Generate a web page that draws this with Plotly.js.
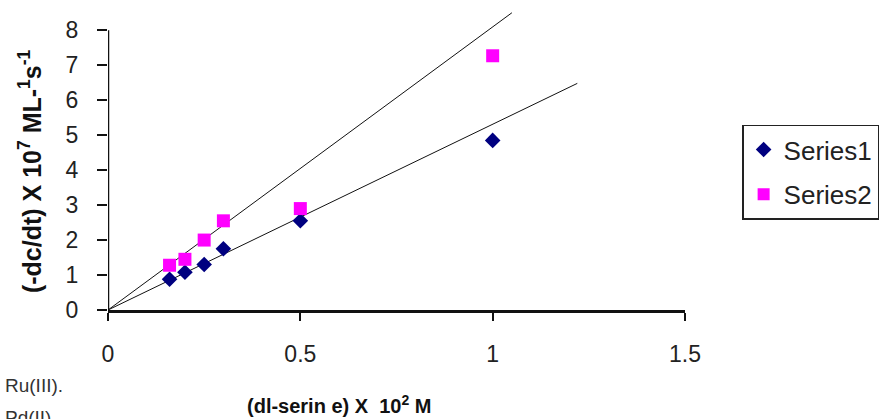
<!DOCTYPE html>
<html>
<head>
<meta charset="utf-8">
<script src="https://cdn.plot.ly/plotly-3.0.1.min.js"></script>
<style>html,body{margin:0;padding:0;background:#fff;}#chart{width:892px;height:419px;}</style>
</head>
<body>
<div id="chart"></div>
<script>
// Data
const concX = [0.16, 0.2, 0.25, 0.3, 0.5, 1.0];
const series1 = [0.88, 1.08, 1.3, 1.75, 2.55, 4.85];
const series2 = [1.28, 1.45, 2.0, 2.55, 2.9, 7.27];
const trend1X = [0, 1.05];
const trend1Y = [0, 8.5];
const trend2X = [0, 1.22];
const trend2Y = [0, 6.48];
const seriesNames = ["Series1", "Series2"];
const xTicks = [0, 0.5, 1, 1.5];
const yTicks = [0, 1, 2, 3, 4, 5, 6, 7, 8];

const traces = [
  {x: trend1X, y: trend1Y, mode: 'lines', line: {color: '#111', width: 1}, showlegend: false, hoverinfo: 'skip'},
  {x: trend2X, y: trend2Y, mode: 'lines', line: {color: '#111', width: 1}, showlegend: false, hoverinfo: 'skip'},
  {x: concX, y: series1, name: seriesNames[0], mode: 'markers', legendgroup: 'a',
   marker: {symbol: 'diamond', size: 12, color: '#000080', line: {width: 0}}},
  {x: concX, y: series2, name: seriesNames[1], mode: 'markers', legendgroup: 'b',
   marker: {symbol: 'square', size: 13, color: '#FF00FF', line: {width: 0}}}
];

const tickFont = {family: 'Arial, Liberation Sans, sans-serif', size: 23, color: '#222'};

const layout = {
  width: 892, height: 419,
  margin: {l: 108, r: 207, t: 11, b: 109, pad: 0},
  paper_bgcolor: '#fff', plot_bgcolor: '#fff',
  showlegend: true,
  legend: {
    x: 1.099, y: 0.62, xanchor: 'left', yanchor: 'top',
    bordercolor: '#222', borderwidth: 1.5, bgcolor: '#fff',
    font: {family: 'Arial, Liberation Sans, sans-serif', size: 26, color: '#222'},
    traceorder: 'grouped', tracegroupgap: 8, itemsizing: 'constant',
    entrywidth: 140, entrywidthmode: 'pixels'
  },
  xaxis: {
    range: [0, 1.5], tickvals: xTicks, ticktext: xTicks.map(String),
    showgrid: false, zeroline: false, showline: true, linecolor: '#111', linewidth: 2.5,
    ticks: 'outside', ticklen: 8, tickwidth: 2, tickcolor: '#111',
    ticklabelstandoff: 14, tickfont: tickFont, fixedrange: true
  },
  yaxis: {
    range: [0, 8.55], tickvals: yTicks, ticktext: yTicks.map(String),
    showgrid: false, zeroline: false, showline: false,
    ticks: 'outside', ticklen: 10, tickwidth: 2, tickcolor: '#111',
    ticklabelstandoff: 14, tickfont: tickFont, fixedrange: true
  },
  shapes: [
    {type: 'line', xref: 'x', yref: 'y', x0: 0, x1: 0, y0: 0, y1: yTicks[yTicks.length - 1],
     line: {color: '#111', width: 2.5}, layer: 'above'}
  ],
  annotations: [
    {text: '<b>(-dc/dt) X 10<sup>7</sup> ML-<sup>1</sup>s<sup>-1</sup></b>', textangle: -90,
     xref: 'paper', yref: 'paper', x: -0.135, y: 0.465, xanchor: 'center', yanchor: 'middle',
     showarrow: false, font: {family: 'Arial, Liberation Sans, sans-serif', size: 25, color: '#111'}},
    {text: '<b>(dl-serin e) X  10<sup>2</sup> M</b>',
     xref: 'paper', yref: 'paper', x: 0.402, y: -0.315, xanchor: 'center', yanchor: 'middle',
     showarrow: false, font: {family: 'Arial, Liberation Sans, sans-serif', size: 20, color: '#111'}},
    {text: 'Ru(III).', xref: 'paper', yref: 'paper', x: -0.182, y: -0.252, xanchor: 'left', yanchor: 'middle',
     showarrow: false, font: {family: 'Arial, Liberation Sans, sans-serif', size: 19, color: '#333'}},
    {text: 'Pd(II).', xref: 'paper', yref: 'paper', x: -0.182, y: -0.36, xanchor: 'left', yanchor: 'middle',
     showarrow: false, font: {family: 'Arial, Liberation Sans, sans-serif', size: 19, color: '#333'}}
  ]
};

Plotly.newPlot('chart', traces, layout, {staticPlot: true, displayModeBar: false});
</script>
</body>
</html>
